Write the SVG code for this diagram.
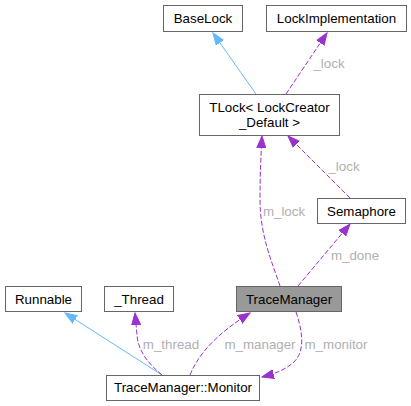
<svg xmlns="http://www.w3.org/2000/svg" width="411" height="406" viewBox="0 0 411 406">
<style>
.n rect{fill:#fff;stroke:#666;stroke-width:1}
.n text{font-family:"Liberation Sans",Arial,sans-serif;font-size:13.33px;fill:#000;text-anchor:middle}
.e{fill:none;stroke-width:1}
.b{stroke:#63b8ff}
.p{stroke:#9a32cd;stroke-dasharray:5,2}
.l{font-family:"Liberation Sans",Arial,sans-serif;font-size:13.33px;fill:#b0b0b0;text-anchor:middle}
</style>
<defs>
<marker id="ab" markerUnits="userSpaceOnUse" markerWidth="13" markerHeight="10" refX="12" refY="5" orient="auto"><path d="M0,0.5 L12,5 L0,9.5 z" fill="#63b8ff" stroke="#63b8ff"/></marker>
<marker id="ap" markerUnits="userSpaceOnUse" markerWidth="13" markerHeight="10" refX="12" refY="5" orient="auto"><path d="M0,0.5 L12,5 L0,9.5 z" fill="#9a32cd" stroke="#9a32cd"/></marker>
</defs>
<rect width="411" height="406" fill="#fff"/>
<g id="edges">
<path class="e b" d="M256,94 L213,33" marker-end="url(#ab)"/>
<path class="e p" d="M286,94 L327,33" marker-end="url(#ap)"/>
<path class="e p" d="M280,286 C272,262 260,235 260,200 C260,175 261,155 262,136" marker-end="url(#ap)"/>
<path class="e p" d="M350,198 L288,136" marker-end="url(#ap)"/>
<path class="e p" d="M298,286 L350,224" marker-end="url(#ap)"/>
<path class="e b" d="M162,375 L65,313" marker-end="url(#ab)"/>
<path class="e p" d="M162,375 C150,365 138,352 137,335 L135,313" marker-end="url(#ap)"/>
<path class="e p" d="M190,375 C198,355 215,335 250,313" marker-end="url(#ap)"/>
<path class="e p" d="M296,312 C302,330 306,350 294,362 C285,370 274,374 262,377" marker-end="url(#ap)"/>
<text class="l" x="329" y="68">_lock</text>
<text class="l" x="284" y="216">m_lock</text>
<text class="l" x="344" y="171">_lock</text>
<text class="l" x="355" y="260">m_done</text>
<text class="l" x="171" y="349">m_thread</text>
<text class="l" x="260" y="349">m_manager</text>
<text class="l" x="336" y="349">m_monitor</text>
</g>
<g id="BaseLock" class="n"><rect x="163.5" y="5.5" width="79" height="26"/><text x="203" y="23">BaseLock</text></g>
<g id="LockImplementation" class="n"><rect x="266.5" y="5.5" width="140" height="26"/><text x="336.5" y="23">LockImplementation</text></g>
<g id="TLock" class="n"><rect x="199.5" y="94.5" width="140" height="41"/><text x="269.5" y="112">TLock&lt; LockCreator</text><text x="269.5" y="127">_Default &gt;</text></g>
<g id="Semaphore" class="n"><rect x="317.5" y="198.5" width="88" height="25"/><text x="361.5" y="216">Semaphore</text></g>
<g id="TraceManager" class="n"><rect x="236.5" y="286.5" width="105" height="25" style="fill:#999"/><text x="289" y="304">TraceManager</text></g>
<g id="Runnable" class="n"><rect x="5.5" y="286.5" width="76" height="25"/><text x="43.5" y="304">Runnable</text></g>
<g id="Thread" class="n"><rect x="104.5" y="286.5" width="69" height="25"/><text x="139" y="304">_Thread</text></g>
<g id="Monitor" class="n"><rect x="106.5" y="375.5" width="153" height="25"/><text x="183" y="392">TraceManager::Monitor</text></g>
</svg>
